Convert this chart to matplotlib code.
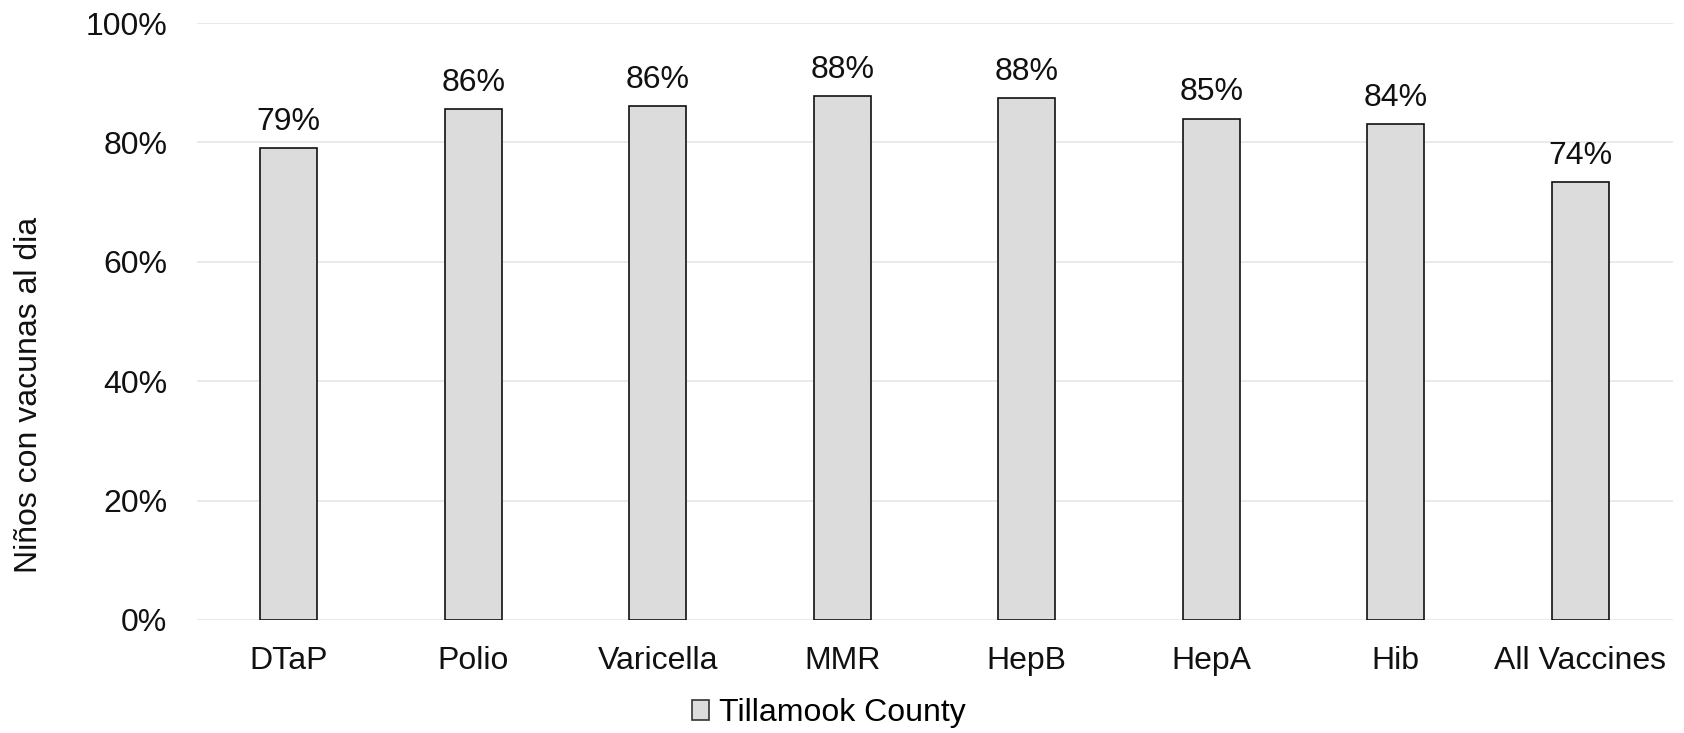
import matplotlib
matplotlib.use("Agg")
import matplotlib.pyplot as plt
from matplotlib.patches import Patch
from matplotlib.ticker import FuncFormatter

categories = ["DTaP", "Polio", "Varicella", "MMR", "HepB", "HepA", "Hib", "All Vaccines"]
values = [79.1, 85.6, 86.1, 87.7, 87.4, 84.0, 83.0, 73.4]
value_labels = ["79%", "86%", "86%", "88%", "88%", "85%", "84%", "74%"]
series_name = "Tillamook County"
y_ticks = [0, 20, 40, 60, 80, 100]

plt.rcParams['font.family'] = ['Liberation Sans', 'DejaVu Sans']
FS = 23

fig = plt.figure(figsize=(16.84, 7.33), dpi=100)
ax = fig.add_axes([0.1167, 0.1542, 0.8765, 0.8144])

x = range(len(categories))
bars = ax.bar(x, values, width=0.31, color="#dcdcdc", edgecolor="#111111",
              linewidth=1.2, zorder=3)

for b, lab in zip(bars, value_labels):
    ax.annotate(lab, (b.get_x() + b.get_width() / 2, b.get_height()),
                xytext=(0, 8), textcoords="offset points",
                ha="center", va="bottom", fontsize=FS, color="#111111")

ax.set_xlim(-0.5, len(categories) - 0.5)
ax.set_ylim(0, 100)
ax.set_yticks(y_ticks)
ax.yaxis.set_major_formatter(FuncFormatter(lambda v, p: f"{int(v)}%"))
ax.set_xticks(list(x))
ax.set_xticklabels(categories)
ax.tick_params(axis="both", length=0, labelsize=FS, colors="#111111")
ax.tick_params(axis="x", pad=19)
ax.tick_params(axis="y", pad=21)
ax.grid(axis="y", color="#e6e6e6", linewidth=1.2, zorder=0)
for s in ax.spines.values():
    s.set_visible(False)

fig.text(0.017, 0.461, "Niños con vacunas al dia", rotation=90,
         ha="center", va="center", fontsize=FS, color="#111111")

handle = Patch(facecolor="#dcdcdc", edgecolor="#333333", linewidth=1.2)
fig.legend([handle], [series_name], loc="center", bbox_to_anchor=(0.492, 0.027),
           frameon=False, fontsize=FS, handlelength=0.55, handleheight=0.55,
           handletextpad=0.3, borderaxespad=0)

fig.savefig("out.png", dpi=100, facecolor="white")
